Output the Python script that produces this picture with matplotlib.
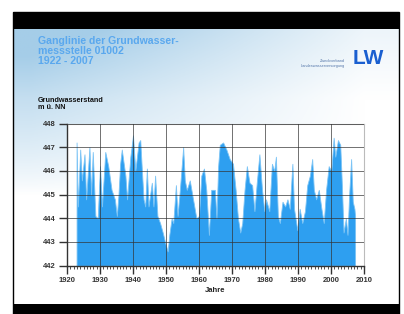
import numpy as np
import matplotlib
matplotlib.use("Agg")
import matplotlib.pyplot as plt
from matplotlib.patches import Rectangle
from matplotlib.ticker import MultipleLocator

# groundwater level readings (m above NN)
years = [1922.9, 1923.3, 1924.0, 1924.5, 1925.3, 1925.8, 1926.8, 1927.3, 1927.8, 1928.6,
         1929.3, 1930.0, 1930.6, 1931.6, 1932.5, 1933.5, 1934.5, 1935.1, 1935.6, 1936.1,
         1936.6, 1937.7, 1938.2, 1939.2, 1940.0, 1940.7, 1941.7, 1942.2, 1942.7, 1943.2,
         1943.7, 1944.2, 1944.7, 1945.7, 1946.2, 1946.7, 1947.4, 1948.2, 1949.0, 1949.7,
         1950.5, 1951.0, 1951.7, 1952.2, 1953.0, 1953.5, 1954.2, 1955.2, 1955.7, 1956.3,
         1957.2, 1958.2, 1959.2, 1960.0, 1960.7, 1961.5, 1962.2, 1963.0, 1963.7, 1964.8,
         1965.3, 1965.8, 1966.3, 1967.3, 1968.3, 1969.3, 1970.3, 1971.1, 1971.8, 1972.5,
         1973.1, 1973.8, 1974.5, 1975.3, 1976.1, 1976.8, 1977.5, 1978.3, 1979.1, 1979.8,
         1980.3, 1981.3, 1982.1, 1982.8, 1983.3, 1983.9, 1984.5, 1985.3, 1986.1, 1986.8,
         1987.5, 1988.3, 1988.8, 1989.8, 1990.5, 1991.3, 1992.1, 1992.8, 1993.6, 1994.3,
         1994.8, 1995.5, 1996.3, 1997.1, 1997.8, 1998.5, 1999.3, 2000.1, 2000.8, 2001.3,
         2002.1, 2002.8, 2003.3, 2003.8, 2004.5, 2005.0, 2005.5, 2006.1, 2006.6, 2007.1,
         2007.3]
levels = [447.2, 444.5, 446.9, 445.6, 446.7, 444.8, 447.0, 445.0, 446.8, 444.1,
          444.0, 446.2, 444.5, 446.8, 446.2, 445.2, 444.8, 444.1, 445.0, 446.3,
          446.9, 445.8, 444.8, 446.6, 447.5, 446.0, 447.2, 447.3, 446.0, 444.8,
          444.5, 446.1, 444.5, 445.5, 444.5, 445.8, 444.1, 443.8, 443.4, 443.0,
          442.6, 443.3, 444.0, 443.8, 445.4, 444.1, 445.2, 447.0, 445.6, 445.2,
          445.6, 444.8, 444.0, 444.1, 445.8, 446.1, 445.2, 443.3, 445.2, 445.2,
          444.0, 446.2, 447.1, 447.2, 446.9, 446.5, 446.3, 445.2, 444.0, 443.4,
          443.8, 445.2, 446.2, 445.5, 445.4, 444.3, 445.5, 446.7, 445.2, 444.3,
          444.8, 444.3, 446.3, 446.0, 446.6, 444.1, 443.8, 444.7, 444.5, 444.8,
          444.4, 446.3, 444.4, 443.5, 444.4, 443.8, 444.3, 445.4, 445.8, 446.5,
          445.2, 444.8, 445.2, 444.4, 443.8, 445.2, 446.2, 446.0, 447.4, 446.6,
          447.3, 447.1, 445.4, 443.4, 444.0, 443.3, 445.0, 446.5, 444.7, 444.4,
          444.1]

x_ticks = list(range(1920, 2011, 10))
y_ticks = list(range(442, 449))

W, H = 404, 314
fig = plt.figure(figsize=(W / 100, H / 100), dpi=100)
fig.patch.set_facecolor("white")

# watery background between the black bars
bg = fig.add_axes([13 / W, 10 / H, 386 / W, 275 / H])
gx, gy = np.meshgrid(np.linspace(0, 1, 200), np.linspace(0, 1, 150))
w = np.clip(1.05 - gx * 1.15, 0, 1) * np.clip(1 - gy / 0.6, 0, 1) ** 0.8
w = np.clip(w + 0.2 * np.clip(1 - gy / 0.25, 0, 1), 0, 1)
tint = np.array([165, 205, 232]) / 255.0
img = 1 - w[..., None] * (1 - tint)
bg.imshow(img, aspect="auto", extent=[0, 1, 0, 1], origin="upper")
bg.set_axis_off()

fig.patches.append(Rectangle((13 / W, 285 / H), 386 / W, 17 / H, transform=fig.transFigure,
                             facecolor="black", edgecolor="none"))
fig.patches.append(Rectangle((13 / W, 0), 386 / W, 10 / H, transform=fig.transFigure,
                             facecolor="black", edgecolor="none"))
fig.patches.append(Rectangle((13 / W, 0), 386 / W, 302 / H, transform=fig.transFigure,
                             facecolor="none", edgecolor="black", linewidth=1))

ax = fig.add_axes([67 / W, 48.3 / H, 297 / W, 142.2 / H])
ax.set_facecolor("white")
ax.fill_between(years, 442, levels, color="#2e9ff0", linewidth=0.6,
                edgecolor="#7cc4f5", zorder=1)
ax.set_xlim(1920, 2010)
ax.set_ylim(442, 448)
ax.set_xticks(x_ticks)
ax.set_yticks(y_ticks)
ax.xaxis.set_minor_locator(MultipleLocator(1))
ax.grid(True, which="major", color="#333333", linewidth=0.7, alpha=0.7, zorder=2)
ax.set_axisbelow(False)

for side in ["top", "right"]:
    ax.spines[side].set_color("#bbbbbb")
    ax.spines[side].set_linewidth(0.8)
for side in ["left", "bottom"]:
    ax.spines[side].set_color("#333333")
    ax.spines[side].set_linewidth(1.0)

ax.tick_params(axis="both", which="major", length=6, width=1.0, color="#333333",
               labelsize=5.5, labelcolor="#333333", pad=2)
ax.tick_params(axis="x", which="minor", length=2.5, width=0.6, color="#333333")
for lab in ax.get_xticklabels() + ax.get_yticklabels():
    lab.set_fontweight("bold")
    lab.set_family("Liberation Sans")

ax.set_xlabel("Jahre", fontsize=5.5, fontweight="bold", color="#222222",
              family="Liberation Sans", labelpad=2)

fig.text(38 / W, 1 - 104 / H, "Grundwasserstand\nm ü. NN", fontsize=5.2,
         fontweight="bold", color="#111111", family="Liberation Sans",
         va="center", ha="left", linespacing=1.15)

fig.text(38 / W, 1 - 51 / H, "Ganglinie der Grundwasser-\nmessstelle 01002\n1922 - 2007",
         fontsize=7.6, fontweight="bold", color="#5aa8ee", family="Liberation Sans",
         va="center", ha="left", linespacing=0.95)

fig.text(345 / W, 1 - 61.5 / H, "Zweckverband", fontsize=2.8, color="#5577aa",
         family="Liberation Sans", ha="right", va="center")
fig.text(345 / W, 1 - 66.5 / H, "Landeswasserversorgung", fontsize=2.8, color="#5577aa",
         family="Liberation Sans", ha="right", va="center")
fig.text(368 / W, 1 - 58 / H, "LW", fontsize=15, fontweight="bold", color="#1a5fd0",
         family="Liberation Sans", ha="center", va="center")

fig.savefig("out.png", dpi=100, facecolor=fig.get_facecolor())
